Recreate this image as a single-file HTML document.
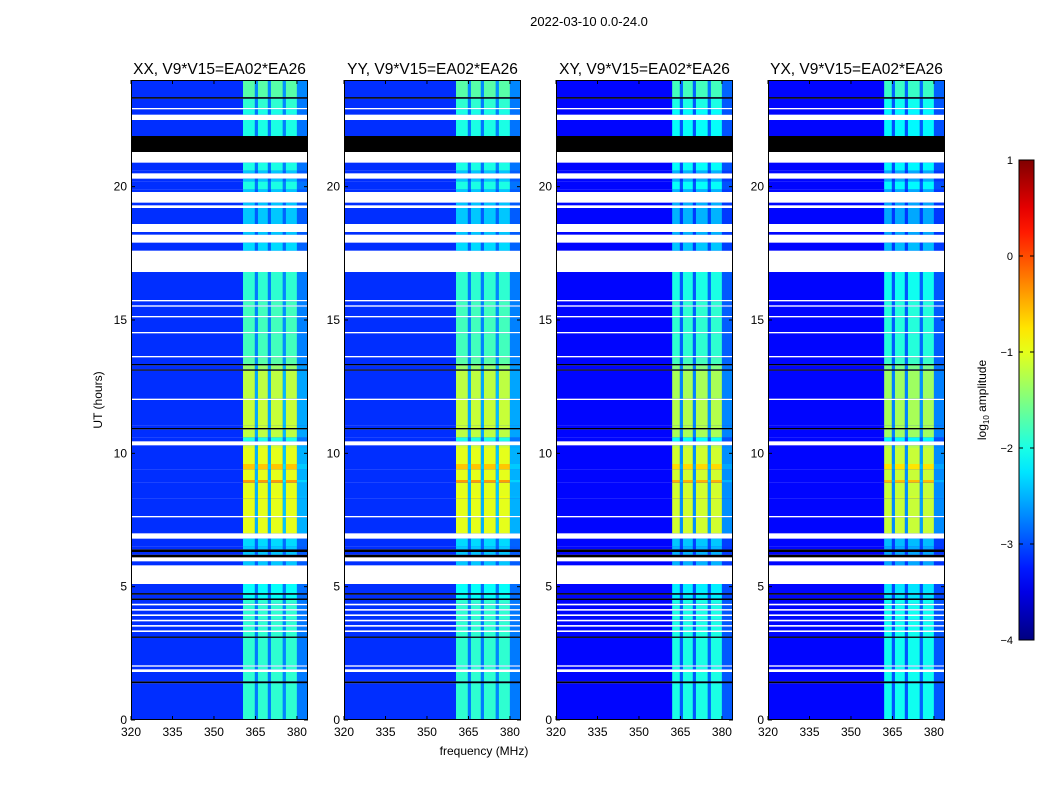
<!DOCTYPE html>
<html><head><meta charset="utf-8"><style>
body{margin:0;background:#fff;font-family:"Liberation Sans",sans-serif}
#wrap{position:relative;width:1050px;height:800px;overflow:hidden}
</style></head><body>
<div id="wrap">
<svg id="svg" width="1050" height="800" style="position:absolute;left:0;top:0"></svg>
</div>
<script>
// ---- data ----
const panelTitles=["XX, V9*V15=EA02*EA26","YY, V9*V15=EA02*EA26","XY, V9*V15=EA02*EA26","YX, V9*V15=EA02*EA26"];
const panelBase=[-3.15,-3.15,-3.35,-3.35];
const panelRfiOffset=[0,0,-0.1,-0.15];
const xTicks=[320,335,350,365,380];
const yTicks=[0,5,10,15,20];
const cbTicks=[1,0,-1,-2,-3,-4];
// frequency bands of RFI: [loMHz, hiMHz, gain]
const bandLo=[360.5,364.8,365.9,369.5,370.6,374.9,376,380];
const bandHi=[364.8,365.9,369.5,370.6,374.9,376,380,384];
const bandGain=[1,0.3,1,0.3,1,0.35,1,0.3];
// time segments: start hour, kind(d=data,w=flagged white,b=black), rfi level (log10)
const segStart=[0,1.38,1.45,1.8,1.9,2.0,2.05,3.08,3.13,3.3,3.36,3.5,3.56,3.7,3.76,3.9,3.96,4.1,4.16,4.3,4.36,4.5,4.56,4.7,4.76,5.1,5.8,5.95,6.1,6.2,6.3,6.4,6.5,6.8,7.0,7.6,7.65,8.3,8.4,8.9,9.0,9.4,9.6,10.2,10.3,10.45,10.6,10.9,10.95,11.05,12.0,12.05,13.1,13.15,13.3,13.35,13.6,13.65,14.5,14.55,15.1,15.15,15.5,15.55,15.7,15.75,16.8,17.6,17.9,18.2,18.3,18.6,19.2,19.3,19.4,19.8,19.9,20.2,20.3,20.5,20.6,20.9,21.3,21.9,22.5,22.7,22.9,22.95,23.3,23.36,24];
const segKind=["d","b","d","w","d","w","d","b","d","w","d","w","d","w","d","w","d","w","d","w","d","b","d","b","d","w","d","w","b","d","b","d","d","w","d","w","d","d","d","d","d","d","d","d","w","d","d","b","d","d","w","d","b","d","b","d","w","d","w","d","w","d","w","d","w","d","w","d","w","d","w","d","w","d","w","d","d","d","w","d","d","w","b","d","w","d","w","d","b","d"];
const segRfi=[-1.9,0,-1.9,0,-1.9,0,-1.9,0,-1.9,0,-1.9,0,-1.9,0,-1.9,0,-1.9,0,-1.9,0,-1.9,0,-2.1,0,-2.1,0,-2.4,0,0,-2.4,0,-2.4,-2.3,0,-1.0,0,-1.0,-0.95,-1.0,-0.4,-1.0,-0.6,-1.0,-1.1,0,-2.0,-1.2,0,-1.15,-1.15,0,-1.2,0,-1.4,0,-1.7,0,-1.8,0,-1.8,0,-1.8,0,-1.8,0,-1.9,0,-2.3,0,-2.4,0,-2.4,0,-2.4,0,-2.4,-2.0,-2.4,0,-2.4,-2.0,0,0,-2.0,0,-2.0,0,-1.9,0,-1.7];
// ---- layout ----
const NS="http://www.w3.org/2000/svg";
const svg=document.getElementById('svg');
const panelX=[131,344,556,768], PW=177, PT=80, PB=720;
const fmin=320,fmax=384,tmin=0,tmax=24;
function xs(p,f){return panelX[p]+(f-fmin)/(fmax-fmin)*PW;}
function ys(h){return PB-(h-tmin)/(tmax-tmin)*(PB-PT);}
function jet(v){let t=(v+4)/5;t=Math.max(0,Math.min(1,t));const c=x=>Math.round(255*Math.max(0,Math.min(1,1.5-Math.abs(x))));return `rgb(${c(4*t-3)},${c(4*t-2)},${c(4*t-1)})`;}
function el(tag,attrs,name,parent){const e=document.createElementNS(NS,tag);for(const k in attrs)e.setAttribute(k,attrs[k]);(parent||svg).appendChild(e);return e;}
function txt(x,y,s,anchor,size,name,parent){const e=el('text',{x:x,y:y,'text-anchor':anchor,'font-size':size,'font-family':'Liberation Sans, sans-serif',fill:'#000'},name,parent);e.textContent=s;return e;}
txt(589,26,"2022-03-10 0.0-24.0","middle",13,"figure-title");
for(let p=0;p<4;p++){
  const g=el('g',{},'panel-'+(p+1));
  for(let i=0;i<segKind.length;i++){
    const y0=ys(segStart[i+1]),y1=ys(segStart[i]);
    const k=segKind[i];
    if(k==='w') continue;
    const base=panelBase[p];
    el('rect',{x:panelX[p],y:y0,width:PW,height:Math.max(0.6,y1-y0),fill:k==='b'?'#000':jet(base)},'time-row',g);
    if(k==='d'){
      const rf=segRfi[i]+panelRfiOffset[p];
      for(let b=0;b<bandLo.length;b++){
        const v=base+bandGain[b]*(rf-base);
        const x0=xs(p,bandLo[b]+((p>=2&&b===0)?1.5:0)),x1=xs(p,bandHi[b]);
        el('rect',{x:x0,y:y0,width:Math.max(0,x1-x0),height:Math.max(0.6,y1-y0),fill:jet(v)},'rfi-cell',g);
      }
    }
  }
  el('rect',{x:panelX[p]+0.5,y:PT+0.5,width:PW-1,height:PB-PT-1,fill:'none',stroke:'#000','stroke-width':1},'plot-frame',g);
  txt(panelX[p]+PW/2,74,panelTitles[p],"middle",15.5,'panel-title',g);
  xTicks.forEach(f=>{const x=xs(p,f);el('line',{x1:x,x2:x,y1:PB,y2:PB-4,stroke:'#000'},'x-tick',g);el('line',{x1:x,x2:x,y1:PT,y2:PT+4,stroke:'#000'},'x-tick',g);txt(x,736,String(f),"middle",12,'x-tick-label',g);});
  yTicks.forEach(h=>{const y=ys(h);el('line',{x1:panelX[p],x2:panelX[p]+4,y1:y,y2:y,stroke:'#000'},'y-tick',g);el('line',{x1:panelX[p]+PW,x2:panelX[p]+PW-4,y1:y,y2:y,stroke:'#000'},'y-tick',g);txt(panelX[p]-4,y+4,String(h),"end",12,'y-tick-label',g);});
}
txt(484,755,"frequency (MHz)","middle",12,"x-axis-title");
const yt=txt(0,0,"UT (hours)","middle",12,"y-axis-title");yt.setAttribute('transform','translate(102,400) rotate(-90)');
// colorbar
const CBX=1019,CBW=15,CBT=160,CBB=640;
const defs=el('defs',{},'defs');
const lg=el('linearGradient',{id:'jetg',x1:0,y1:1,x2:0,y2:0},'jet-gradient',defs);
for(let i=0;i<=20;i++){el('stop',{offset:(i/20),'stop-color':jet(-4+5*i/20)},'gradient-stop',lg);}
el('rect',{x:CBX,y:CBT,width:CBW,height:CBB-CBT,fill:'url(#jetg)',stroke:'#000'},'colorbar',svg);
cbTicks.forEach(v=>{const y=CBB-(v+4)/5*(CBB-CBT);el('line',{x1:CBX,x2:CBX+4,y1:y,y2:y,stroke:'#000'},'colorbar-tick');el('line',{x1:CBX+CBW,x2:CBX+CBW-4,y1:y,y2:y,stroke:'#000'},'colorbar-tick');txt(1013,y+4,(v<0?"\u2212":"")+Math.abs(v),"end",11,'colorbar-tick-label');});
const ct=el('text',{x:0,y:0,'text-anchor':'middle','font-size':12,'font-family':'Liberation Sans, sans-serif',transform:'translate(986,400) rotate(-90)'},'colorbar-label');
ct.innerHTML='log<tspan font-size="8" dy="3">10</tspan><tspan dy="-3"> amplitude</tspan>';
</script>
</body></html>
